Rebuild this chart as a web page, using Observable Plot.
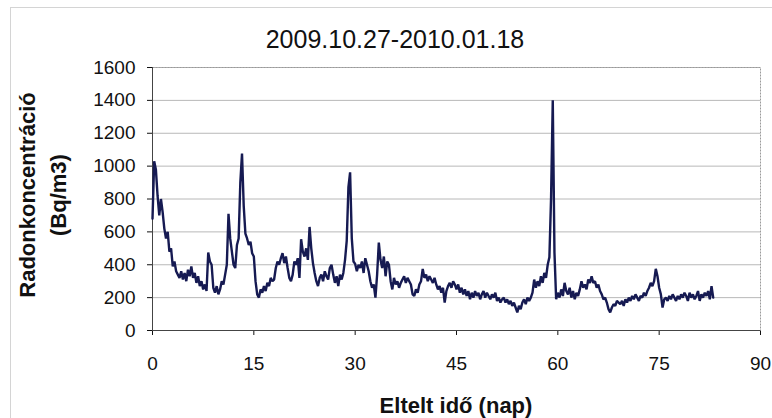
<!DOCTYPE html>
<html>
<head>
<meta charset="utf-8">
<script src="https://cdn.jsdelivr.net/npm/d3@7"></script>
<script src="https://cdn.jsdelivr.net/npm/@observablehq/plot@0.6"></script>
<style>
  html, body { margin: 0; padding: 0; background: #fff; }
  #wrap { position: relative; width: 772px; height: 418px; overflow: hidden; font-family: "Liberation Sans", Arial, sans-serif; }
  #border { position: absolute; left: 10px; top: 7px; width: 800px; height: 420px; border-left: 1px solid #d4d4d4; border-top: 1px solid #d4d4d4; }
  #title { position: relative; height: 55px; box-sizing: border-box; padding-top: 25px; padding-left: 18px; line-height: 28px; text-align: center; font-size: 25px; color: #111; }
  #ylabel { position: absolute; left: 43px; top: 195px; transform: translate(-50%, -50%) rotate(-90deg); text-align: center; font-weight: bold; font-size: 22px; line-height: 31px; white-space: nowrap; color: #111; }
  #xlabel { position: absolute; left: 456px; top: 406px; transform: translate(-50%, -50%); font-weight: bold; font-size: 22px; white-space: nowrap; color: #111; }
  #chart { position: relative; }
</style>
</head>
<body>
<div id="wrap">
  <div id="border"></div>
  <div id="title">2009.10.27-2010.01.18</div>
  <div id="chart"></div>
  <div id="ylabel">Radonkoncentráció<br>(Bq/m3)</div>
  <div id="xlabel">Eltelt idő (nap)</div>
</div>
<script>
// Elapsed time (days)
const days = [
0,0.25,0.5,0.75, 1,1.25,1.5,1.75, 2,2.25,2.5,2.75, 3,3.25,3.5,3.75, 4,4.25,4.5,4.75,
5,5.25,5.5,5.75, 6,6.25,6.5,6.75, 7,7.25,7.5,7.75, 8,8.25,8.5,8.75, 9,9.25,9.5,9.75,
10,10.25,10.5,10.75, 11,11.25,11.5,11.75, 12,12.25,12.5,12.75, 13,13.25,13.5,13.75, 14,14.25,14.5,14.75,
15,15.25,15.5,15.75, 16,16.25,16.5,16.75, 17,17.25,17.5,17.75, 18,18.25,18.5,18.75, 19,19.25,19.5,19.75,
20,20.25,20.5,20.75, 21,21.25,21.5,21.75, 22,22.25,22.5,22.75, 23,23.25,23.5,23.75, 24,24.25,24.5,24.75,
25,25.25,25.5,25.75, 26,26.25,26.5,26.75, 27,27.25,27.5,27.75, 28,28.25,28.5,28.75, 29,29.25,29.5,29.75,
30,30.25,30.5,30.75, 31,31.25,31.5,31.75, 32,32.25,32.5,32.75, 33,33.25,33.5,33.75, 34,34.25,34.5,34.75,
35,35.25,35.5,35.75, 36,36.25,36.5,36.75, 37,37.25,37.5,37.75, 38,38.25,38.5,38.75, 39,39.25,39.5,39.75,
40,40.25,40.5,40.75, 41,41.25,41.5,41.75, 42,42.25,42.5,42.75, 43,43.25,43.5,43.75, 44,44.25,44.5,44.75,
45,45.25,45.5,45.75, 46,46.25,46.5,46.75, 47,47.25,47.5,47.75, 48,48.25,48.5,48.75, 49,49.25,49.5,49.75,
50,50.25,50.5,50.75, 51,51.25,51.5,51.75, 52,52.25,52.5,52.75, 53,53.25,53.5,53.75, 54,54.25,54.5,54.75,
55,55.25,55.5,55.75, 56,56.25,56.5,56.75, 57,57.25,57.5,57.75, 58,58.25,58.5,58.75, 59,59.25,59.5,59.75,
60,60.25,60.5,60.75, 61,61.25,61.5,61.75, 62,62.25,62.5,62.75, 63,63.25,63.5,63.75, 64,64.25,64.5,64.75,
65,65.25,65.5,65.75, 66,66.25,66.5,66.75, 67,67.25,67.5,67.75, 68,68.25,68.5,68.75, 69,69.25,69.5,69.75,
70,70.25,70.5,70.75, 71,71.25,71.5,71.75, 72,72.25,72.5,72.75, 73,73.25,73.5,73.75, 74,74.25,74.5,74.75,
75,75.25,75.5,75.75, 76,76.25,76.5,76.75, 77,77.25,77.5,77.75, 78,78.25,78.5,78.75, 79,79.25,79.5,79.75,
80,80.25,80.5,80.75, 81,81.25,81.5,81.75, 82,82.25,82.5,82.75, 83
];
// Radon concentration (Bq/m3)
const radon = [
680,1030,980,820, 700,800,720,620, 560,600,480,500, 390,420,360,340, 320,360,310,350,
300,370,330,390, 320,350,290,330, 270,300,250,280, 240,474,420,400, 260,230,270,220,
250,300,280,340, 400,710,560,480, 400,380,520,560, 900,1077,760,590, 560,520,540,470,
450,300,220,200, 250,230,270,240, 290,270,320,300, 310,380,420,400, 440,470,410,450,
380,320,300,340, 420,400,440,320, 555,480,450,500, 430,630,500,410, 350,300,270,320,
340,300,360,330, 310,380,400,340, 290,330,270,340, 310,350,430,545, 870,962,560,420,
405,360,400,380, 420,350,440,400, 360,300,260,280, 200,340,535,430, 380,450,330,420,
400,300,250,320, 280,300,260,290, 310,330,290,320, 300,280,220,210, 250,230,280,300,
375,320,340,300, 330,310,290,320, 280,250,270,230, 260,170,240,270, 290,260,300,280,
250,280,230,260, 220,250,210,240, 190,230,200,240, 210,230,190,220, 240,200,230,210,
190,220,200,230, 180,200,170,190, 200,170,190,160, 180,150,170,140, 110,150,130,170,
190,160,200,180, 200,230,310,260, 300,270,330,290, 350,320,400,445, 810,1400,475,190,
230,200,250,210, 290,240,220,260, 200,240,190,230, 210,250,300,260, 280,250,310,290,
330,290,300,260, 280,240,220,190, 200,170,130,110, 140,160,150,180, 170,160,180,150,
190,170,200,180, 210,190,220,200, 180,210,200,230, 210,240,260,290, 270,300,375,330,
260,220,140,190, 200,180,210,190, 220,200,180,210, 190,220,200,230, 210,180,230,200,
220,190,210,240, 180,220,200,230, 210,240,190,270, 200
];
const xTicks = [0, 15, 30, 45, 60, 75, 90];
const yTicks = [0, 200, 400, 600, 800, 1000, 1200, 1400, 1600];

const data = days.map((d, i) => ({day: d, value: radon[i]}));

const chart = Plot.plot({
  width: 772,
  height: 363,
  marginTop: 12,
  marginBottom: 88,
  marginLeft: 152,
  marginRight: 12,
  style: {fontFamily: "'Liberation Sans', Arial, sans-serif", fontSize: "19px", color: "#111", background: "transparent"},
  x: {domain: [0, 90], ticks: xTicks, tickSize: 5, tickPadding: 21, label: null, tickFormat: d => String(d)},
  y: {domain: [0, 1600], ticks: yTicks, tickSize: 5, tickPadding: 12, label: null, tickFormat: d => String(d)},
  marks: [
    Plot.ruleY(yTicks.filter(v => v > 0), {stroke: "#b8b8b8", strokeWidth: 1}),
    Plot.frame({stroke: "#9a9a9a", strokeWidth: 1, strokeDasharray: "2,1"}),
    Plot.ruleY([0], {stroke: "#444", strokeWidth: 1}),
    Plot.ruleX([0], {stroke: "#444", strokeWidth: 1}),
    Plot.line(data, {x: "day", y: "value", stroke: "#161a52", strokeWidth: 2.4, strokeLinejoin: "miter"})
  ]
});
document.getElementById("chart").appendChild(chart);
</script>
</body>
</html>
